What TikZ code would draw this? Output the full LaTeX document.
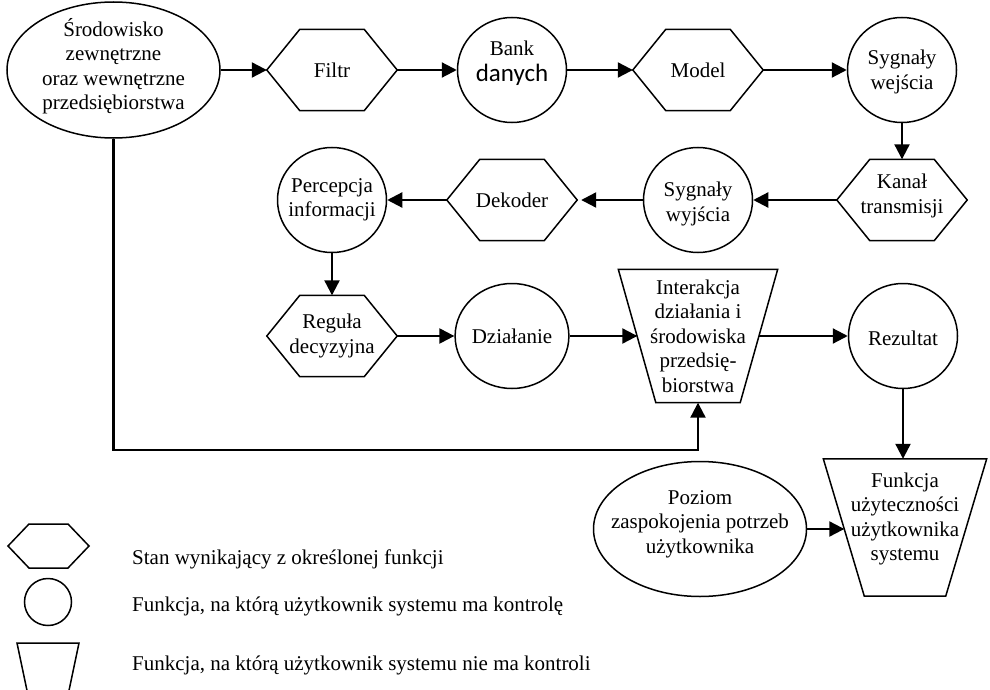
\documentclass[tikz,border=0pt]{standalone}
\usepackage{fontspec}
\setmainfont{Liberation Serif}
\newfontfamily\calibrifont{Carlito}
\usetikzlibrary{shapes.geometric,arrows.meta}
\newcommand\myhexline[2]{\draw[shp] (#1.west) -- ([xshift=#2]#1.north west) -- ([xshift=-#2]#1.north east) -- (#1.east) -- ([xshift=-#2]#1.south east) -- ([xshift=#2]#1.south west) -- cycle;}
\newcommand\mytrapline[2]{\draw[shp] (#1.north west) -- (#1.north east) -- ([xshift=-#2]#1.south east) -- ([xshift=#2]#1.south west) -- cycle;}
\begin{document}
\begin{tikzpicture}[x=1pt,y=-1pt,
  every node/.style={font=\fontsize{21}{24.5}\selectfont, align=center, inner sep=0pt},
  shp/.style={draw=black, line width=1.5pt},
  oval/.style={shape=ellipse, shp, minimum width=109pt, minimum height=105pt},
  hexbox/.style={shape=rectangle, minimum width=130pt, minimum height=81pt},
  trapbox/.style={shape=rectangle},
  legtext/.style={anchor=west},
  arr/.style={line width=2.2pt, -{Triangle[length=15pt,width=15pt]}}
]
\useasboundingbox (0,0) rectangle (990,690);
\fill[white] (0,0) rectangle (990,690);

% row 1
\node[oval, minimum width=213pt, minimum height=136pt] (env) at (113.5,70) {};
\node (envt) at (113.5,66) {Środowisko\\zewnętrzne\\oraz wewnętrzne\\przedsiębiorstwa};
\node[hexbox] (filtr) at (332,70) {Filtr};
\myhexline{filtr}{33pt}
\node[oval] (bank) at (512,70) {};
\node (bankt) at (512,63) {Bank\\[1pt]{\calibrifont\fontsize{25}{28}\selectfont danych}};
\node[hexbox] (model) at (698,70) {Model};
\myhexline{model}{33pt}
\node[oval] (swe) at (902,70) {};
\node (swet) at (902,72) {Sygnały\\wejścia};

% row 2
\node[hexbox] (kanal) at (902,200) {};
\myhexline{kanal}{33pt}
\node (kanalt) at (902,196) {Kanał\\transmisji};
\node[oval] (swy) at (698,200) {};
\node (swyt) at (698,204) {Sygnały\\wyjścia};
\node[hexbox] (dek) at (512,200) {Dekoder};
\myhexline{dek}{33pt}
\node[oval] (per) at (332,200) {};
\node (pert) at (332,200) {Percepcja\\informacji};

% row 3
\node[hexbox] (reg) at (332,336) {Reguła\\decyzyjna};
\myhexline{reg}{33pt}
\node[oval] (dz) at (512,336) {Działanie};
\node[trapbox, minimum width=159pt, minimum height=133pt] (int) at (698,336) {Interakcja\\działania i\\środowiska\\przedsię-\\biorstwa};
\mytrapline{int}{37.5pt}
\node[oval] (rez) at (903,336) {};
\node (rezt) at (903,338) {Rezultat};

% row 4
\node[oval, minimum width=213pt, minimum height=135pt] (poz) at (700,529) {};
\node (pozt) at (700,524) {Poziom\\zaspokojenia potrzeb\\użytkownika};
\node[trapbox, minimum width=163pt, minimum height=137pt] (fu) at (905,527.5) {};
\mytrapline{fu}{41pt}
\node (futext) at (905,519) {Funkcja\\użyteczności\\użytkownika\\systemu};

% connectors
\coordinate (fbk) at (698,450);
\draw[arr] (env) -- (filtr);
\draw[arr] (filtr) -- (bank);
\draw[arr] (bank) -- (model);
\draw[arr] (model) -- (swe);
\draw[arr] (swe) -- (kanal);
\draw[arr] (kanal) -- (swy);
\draw[arr, shorten >=4pt] (swy) -- (dek);
\draw[arr] (dek) -- (per);
\draw[arr] (per) -- (reg);
\draw[arr] (reg) -- (dz);
\draw[arr] (dz) -- ([xshift=19pt]int.west);
\draw[arr] ([xshift=-19pt]int.east) -- (rez);
\draw[arr] (rez) -- (rez |- fu.north);
\draw[arr] (poz) -- ([xshift=21pt]fu.west |- poz);
\draw[arr] (env.south) |- (fbk) -- (int.south);

% legend
\draw[shp] (8,546) -- (29,524) -- (68,524) -- (89,546) -- (68,568) -- (29,568) -- cycle;
\draw[shp] (48,602) circle[radius=23.5pt];
\draw[shp] (17,643) -- (79,643) -- (67,700) -- (29,700) -- cycle;
\node[legtext] (l1) at (132,559) {Stan wynikający z określonej funkcji};
\node[legtext] (l2) at (132,606) {Funkcja, na którą użytkownik systemu ma kontrolę};
\node[legtext] (l3) at (132,665) {Funkcja, na którą użytkownik systemu nie ma kontroli};
\end{tikzpicture}
\end{document}
